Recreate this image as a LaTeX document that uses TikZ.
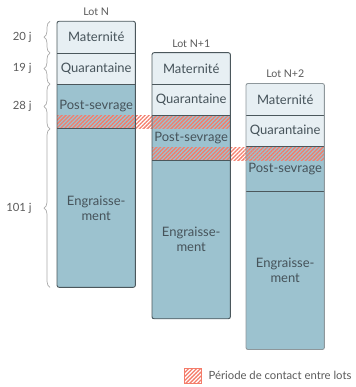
\documentclass[tikz,border=0pt]{standalone}
\usepackage{fontspec}
\setmainfont{Lato}
\usetikzlibrary{patterns.meta,decorations.pathreplacing,calc}
\definecolor{cellLight}{HTML}{E7EFF3}
\definecolor{cellDark}{HTML}{9CC2CF}
\definecolor{hatchred}{HTML}{F47C6A}
\definecolor{frameDark}{HTML}{4B575C}
\definecolor{frameLight}{HTML}{8E979B}
\definecolor{txt}{HTML}{46535A}
\definecolor{labgray}{HTML}{5A5A5A}
\definecolor{bracegray}{HTML}{ABABAB}
\begin{document}
\begin{tikzpicture}[x=1pt,y=-1pt,
  cell/.style={rectangle, inner sep=0pt, minimum width=78pt, text=txt,
    font=\fontsize{13}{15}\selectfont, align=center},
  cellL/.style={cell, fill=cellLight},
  cellD/.style={cell, fill=cellDark},
  hatch/.style={pattern={Lines[angle=45,distance=2.8pt,line width=1.3pt]}, pattern color=hatchred},
  divider/.style={draw=frameDark, line width=0.8pt},
  lotlab/.style={text=labgray, font=\fontsize{10.6}{12}\selectfont, inner sep=0pt},
  bracelab/.style={text=labgray, font=\fontsize{11.3}{12}\selectfont, inner sep=0pt},
  bracestyle/.style={draw=bracegray, line width=0.7pt, decorate, decoration={brace, amplitude=6pt}}
]
\useasboundingbox (0,0) rectangle (355,387);

% cells
\foreach \i/\x/\t in {0/57/21.3, 1/152/52.7, 2/246/83.5} {
  \node[cellL, minimum height=31.3pt, anchor=north west] (m\i) at (\x,\t) {Maternité};
  \node[cellL, minimum height=30.7pt, anchor=north] (q\i) at (m\i.south) {Quarantaine};
  \node[cellD, minimum height=44.4pt, anchor=north] (p\i) at (q\i.south) {Post-sevrage};
  \node[cellD, minimum height=158pt, anchor=north] (e\i) at (p\i.south) {Engraisse-\\ment};
}

% contact periods
\fill[hatch] ($(p0.south west)+(0,-13)$) rectangle (p0.south -| p1.east);
\fill[hatch] ($(p1.south west)+(0,-13)$) rectangle (p1.south -| p2.east);

% dividers and frames
\foreach \i/\fc in {0/frameDark, 1/frameDark, 2/frameLight} {
  \draw[divider] (m\i.south west) -- (m\i.south east);
  \draw[divider] (q\i.south west) -- (q\i.south east);
  \draw[divider] (p\i.south west) -- (p\i.south east);
  \draw[draw=\fc, line width=0.9pt, rounded corners=2pt] (m\i.north west) rectangle (e\i.south east);
}

% lot labels
\node[lotlab, anchor=base] (l0) at ($(m0.north)+(0,-5.6)$) {Lot N};
\node[lotlab, anchor=base] (l1) at ($(m1.north)+(0,-5.6)$) {Lot N+1};
\node[lotlab, anchor=base] (l2) at ($(m2.north)+(0,-5.6)$) {Lot N+2};

% braces
\draw[bracestyle] ($(m0.south west)+(-7,0)$) -- ($(m0.north west)+(-7,0)$)
  node[bracelab, midway, anchor=east, xshift=-18pt] (b0) {20 j};
\draw[bracestyle] ($(q0.south west)+(-7,0)$) -- ($(q0.north west)+(-7,0)$)
  node[bracelab, midway, anchor=east, xshift=-18pt] (b1) {19 j};
\draw[bracestyle] ($(p0.south west)+(-7,0)$) -- ($(p0.north west)+(-7,0)$)
  node[bracelab, midway, anchor=east, xshift=-18pt] (b2) {28 j};
\draw[bracestyle] ($(e0.south west)+(-7,0)$) -- ($(e0.north west)+(-7,0)$)
  node[bracelab, midway, anchor=east, xshift=-18pt] (b3) {101 j};

% legend
\node[hatch, draw=hatchred, line width=0.7pt, minimum width=17pt, minimum height=15pt, inner sep=0pt] (leg) at (192.5,375.5) {};
\node[bracelab, anchor=west, xshift=7pt] (legt) at (leg.east) {Période de contact entre lots};
\end{tikzpicture}
\end{document}
